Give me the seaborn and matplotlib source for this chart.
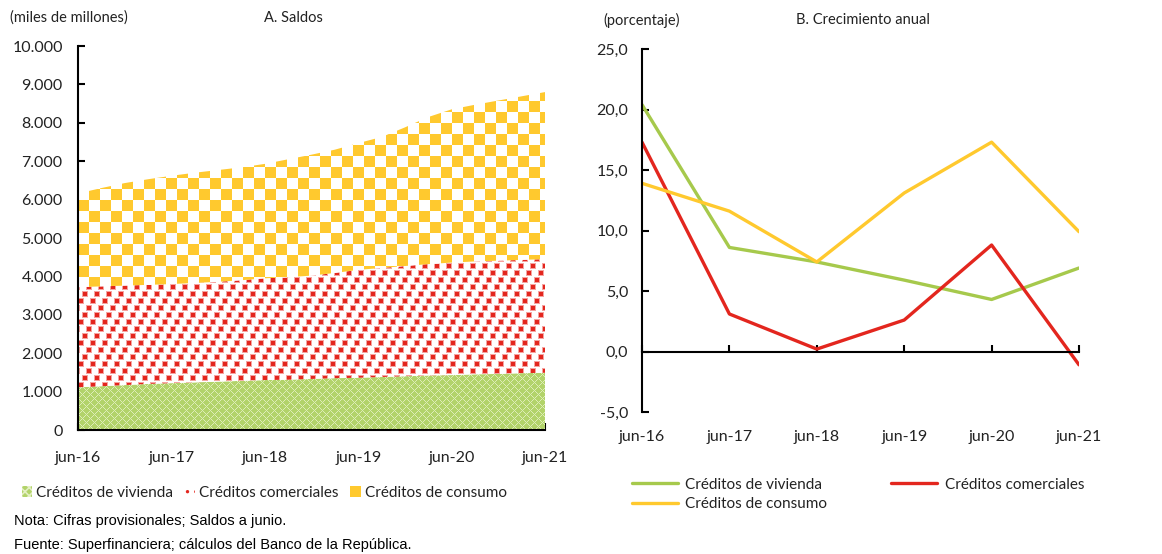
import numpy as np
import pandas as pd
import seaborn as sns
import matplotlib.pyplot as plt
from matplotlib.colors import to_rgb
from matplotlib.patches import Patch
from matplotlib.lines import Line2D

# Panel A: saldos (miles de millones), trimestral jun-16 .. jun-21
trimestres = list(range(21))
vivienda = [1110, 1140, 1170, 1200, 1220, 1240, 1260, 1280, 1300, 1310, 1330,
            1350, 1360, 1380, 1400, 1420, 1430, 1450, 1460, 1480, 1490]
comerciales = [2610, 2600, 2590, 2580, 2580, 2590, 2600, 2620, 2650, 2670, 2690,
               2740, 2810, 2840, 2870, 2900, 2930, 2940, 2950, 2950, 2960]
consumo = [2440, 2560, 2670, 2750, 2820, 2870, 2910, 2940, 2980, 3070, 3150,
           3210, 3300, 3410, 3610, 3830, 3990, 4080, 4170, 4260, 4350]

# Panel B: crecimiento anual (%)
anios = ['jun-16', 'jun-17', 'jun-18', 'jun-19', 'jun-20', 'jun-21']
crec_vivienda = [20.4, 8.6, 7.4, 5.9, 4.3, 6.9]
crec_comerciales = [17.3, 3.1, 0.2, 2.6, 8.8, -1.1]
crec_consumo = [13.9, 11.6, 7.4, 13.1, 17.3, 9.9]

series = ['Créditos de vivienda', 'Créditos comerciales', 'Créditos de consumo']
verde = '#A6C94C'
rojo = '#E3261E'
amarillo = '#FFC92E'

sns.set_theme(style='white')
plt.rcParams['font.family'] = ['Lato', 'DejaVu Sans']
plt.rcParams['hatch.linewidth'] = 1.2

fig = plt.figure(figsize=(11.62, 5.54), dpi=100)
W, H = 1162, 554
axA = fig.add_axes([78 / W, 1 - 430 / H, 467 / W, 384 / H])
axB = fig.add_axes([642 / W, 1 - 412 / H, 437 / W, 363 / H])


def textura(tipo, h, w):
    yy, xx = np.mgrid[0:h, 0:w]
    img = np.ones((h, w, 3))
    if tipo == 'consumo':
        m = ((xx // 11 + yy // 11) % 2) == 0
        img[m] = to_rgb(amarillo)
    elif tipo == 'comerciales':
        fila = yy // 7
        cx = (xx + (fila % 3) * 4) % 12
        cy = yy % 7
        halo = (cx < 6) & (cy < 6)
        nucleo = (cx >= 1) & (cx < 5) & (cy >= 1) & (cy < 5)
        img[halo] = to_rgb('#F5A3A0')
        img[nucleo] = to_rgb(rojo)
    else:
        img[:] = to_rgb('#B2D36A')
        m = ((xx + yy) % 8 == 0) | ((xx - yy) % 8 == 0)
        img[m] = to_rgb('#DDEDB6')
    return img


# ---- Panel A: areas apiladas con textura
x = np.array(trimestres)
base = np.zeros(len(x))
for tipo, vals in [('vivienda', vivienda), ('comerciales', comerciales),
                   ('consumo', consumo)]:
    top = base + np.array(vals)
    poly = axA.fill_between(x, base, top, facecolor='none', linewidth=0)
    im = axA.imshow(textura(tipo, 384, 467), extent=(0, 20, 0, 10000),
                    aspect='auto', interpolation='nearest', zorder=1)
    im.set_clip_path(poly.get_paths()[0], axA.transData)
    base = top

axA.set_xlim(0, 20)
axA.set_ylim(0, 10000)
axA.set_xticks([0, 4, 8, 12, 16, 20])
axA.set_xticklabels(anios)
axA.set_yticks(range(0, 10001, 1000))
axA.set_yticklabels([f'{v:,}'.replace(',', '.') for v in range(0, 10001, 1000)])
for s in ['top', 'right']:
    axA.spines[s].set_visible(False)
for s in ['left', 'bottom']:
    axA.spines[s].set_color('black')
    axA.spines[s].set_linewidth(1.5)
    axA.spines[s].set_zorder(5)
axA.tick_params(axis='both', direction='in', length=5, width=1.5, color='black',
                labelsize=11.5, labelcolor='#222222', bottom=True, left=True)
axA.tick_params(axis='x', pad=15)
axA.tick_params(axis='y', pad=11)

fig.text(10 / W, 1 - 18 / H, '(miles de millones)', fontsize=10.5, va='center',
         color='#222222')
fig.text(293 / W, 1 - 18 / H, 'A. Saldos', fontsize=10.5, va='center',
         ha='center', color='#222222')

# ---- Panel B: lineas
df = pd.DataFrame({
    'pos': list(range(6)) * 3,
    'valor': crec_vivienda + crec_comerciales + crec_consumo,
    'serie': [series[0]] * 6 + [series[1]] * 6 + [series[2]] * 6,
})
paleta = {series[0]: verde, series[1]: rojo, series[2]: amarillo}
sns.lineplot(data=df, x='pos', y='valor', hue='serie', palette=paleta,
             linewidth=2.4, ax=axB, legend=False, sort=False)
axB.set_xlim(0, 5)
axB.set_ylim(-5, 25)
axB.set_xlabel('')
axB.set_ylabel('')
axB.set_yticks(range(-5, 26, 5))
axB.set_yticklabels([f'{v:.1f}'.replace('.', ',') for v in range(-5, 26, 5)])
axB.set_xticks(range(6))
for s in ['top', 'right']:
    axB.spines[s].set_visible(False)
axB.spines['bottom'].set_position(('data', 0))
for s in ['left', 'bottom']:
    axB.spines[s].set_color('black')
    axB.spines[s].set_linewidth(1.5)
axB.tick_params(axis='both', direction='in', length=5, width=1.5, color='black',
                labelsize=11.5, labelcolor='#222222', bottom=True, left=True)
axB.tick_params(axis='x', labelbottom=False)
axB.tick_params(axis='y', pad=10)
sec = axB.secondary_xaxis('bottom')
sec.set_xticks(range(6))
sec.set_xticklabels(anios)
sec.spines['bottom'].set_visible(False)
sec.tick_params(length=0, pad=13, labelsize=11.5, labelcolor='#222222')

fig.text(603 / W, 1 - 20 / H, '(porcentaje)', fontsize=10.5, va='center',
         color='#222222')
fig.text(863 / W, 1 - 20 / H, 'B. Crecimiento anual', fontsize=10.5,
         va='center', ha='center', color='#222222')

# ---- Leyendas
hA = [Patch(facecolor='#B2D36A', edgecolor='#E4F0C4', hatch='xxxx', lw=0),
      Patch(facecolor='white', edgecolor=rojo, hatch='..', lw=0),
      Patch(facecolor=amarillo, lw=0)]
fig.legend(hA, series, loc='center left', bbox_to_anchor=(8 / W, 1 - 493 / H),
           ncol=3, frameon=False, fontsize=11, handlelength=0.7,
           handleheight=0.7, handletextpad=0.25, columnspacing=0.75,
           labelcolor='#222222')

hB = [Line2D([], [], color=c, lw=2.4) for c in (verde, amarillo, rojo)]
fig.legend(hB, [series[0], series[2], series[1]], loc='upper left',
           bbox_to_anchor=(618 / W, 1 - 464 / H),
           ncol=2, frameon=False, fontsize=11, handlelength=3.0,
           handletextpad=0.5, columnspacing=4.2, labelspacing=0.35,
           labelcolor='#222222')

fig.text(14 / W, 1 - 521 / H, 'Nota: Cifras provisionales; Saldos a junio.',
         fontsize=10.5, family='Liberation Sans', va='center', color='black')
fig.text(14 / W, 1 - 545 / H,
         'Fuente: Superfinanciera; cálculos del Banco de la República.',
         fontsize=10.5, family='Liberation Sans', va='center', color='black')

fig.savefig('out.png', dpi=100)
